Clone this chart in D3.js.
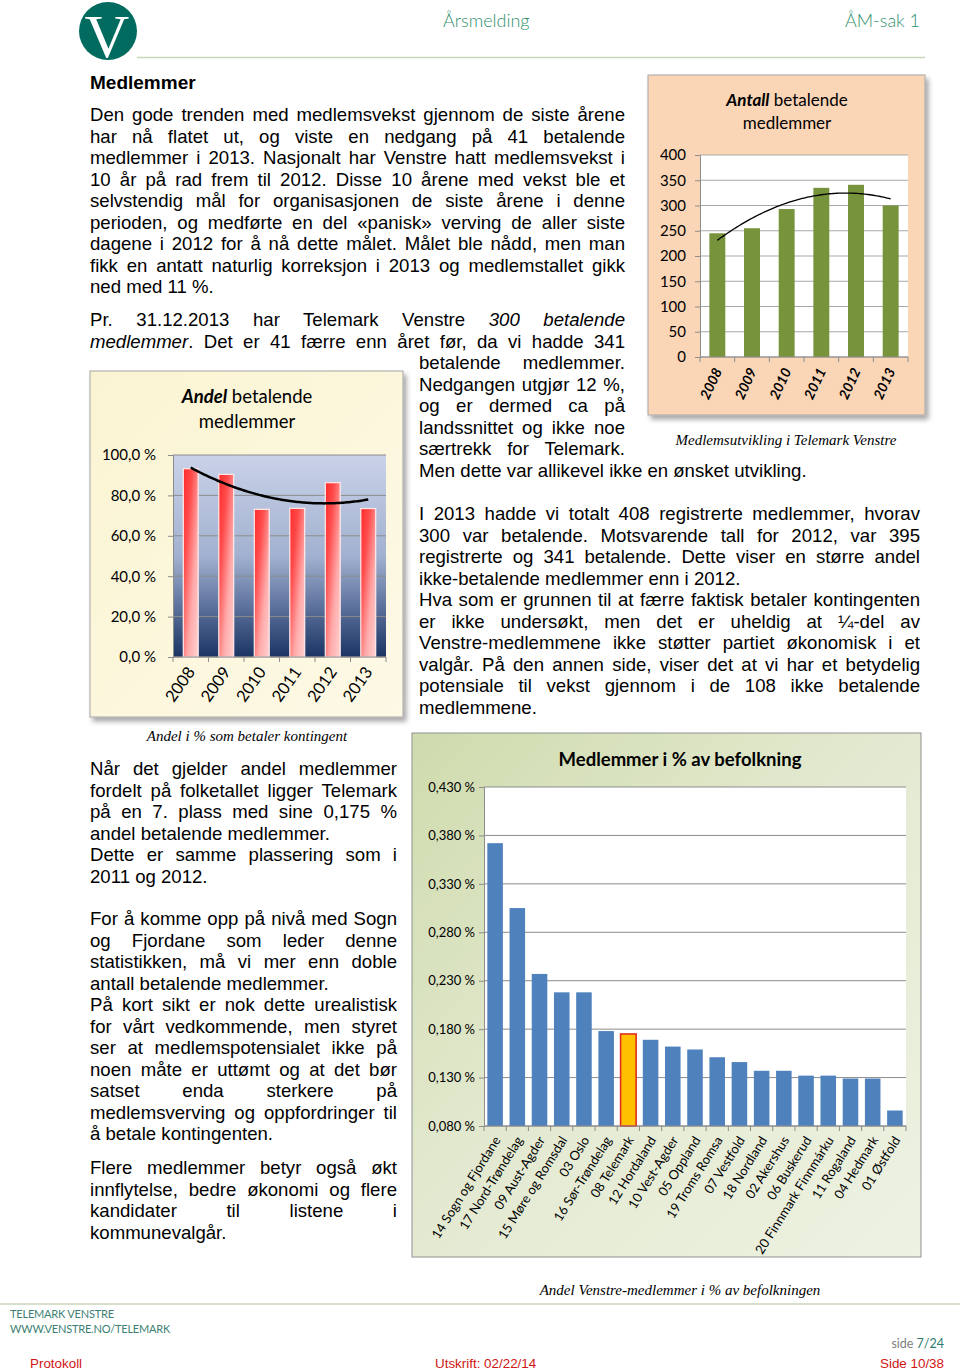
<!DOCTYPE html>
<html><head><meta charset="utf-8">
<script src="https://cdn.jsdelivr.net/npm/d3@7"></script>
<style>
body{margin:0;width:960px;height:1371px;position:relative;background:#fff;overflow:hidden;font-family:"Liberation Sans",Arial,sans-serif;}
#page{position:absolute;left:0;top:0;}
.ln{position:absolute;font-size:18.6px;line-height:22px;white-space:nowrap;color:#000;}
</style></head><body>
<svg id="page" width="960" height="1371"></svg>
<script>
// ---------- DATA ----------
const years = ["2008","2009","2010","2011","2012","2013"];
const antall = [245, 255, 293, 335, 341, 300];
const antallTicks = [0, 50, 100, 150, 200, 250, 300, 350, 400];
const andel = [93.2, 90.4, 73.1, 73.6, 86.3, 73.5];
const andelTicks = [0, 20, 40, 60, 80, 100];
const fylker = ["14 Sogn og Fjordane","17 Nord-Trøndelag","09 Aust-Agder","15 Møre og Romsdal","03 Oslo","16 Sør-Trøndelag","08 Telemark","12 Hordaland","10 Vest-Agder","05 Oppland","19 Troms Romsa","07 Vestfold","18 Nordland","02 Akershus","06 Buskerud","20 Finnmark Finnmárku","11 Rogaland","04 Hedmark","01 Østfold"];
const befolkning = [0.372, 0.305, 0.237, 0.218, 0.218, 0.178, 0.175, 0.169, 0.162, 0.159, 0.151, 0.146, 0.137, 0.137, 0.132, 0.132, 0.129, 0.129, 0.096];
const befolkningTicks = [0.080, 0.130, 0.180, 0.230, 0.280, 0.330, 0.380, 0.430];
const highlight = "08 Telemark";

// body text lines: [html, x, yCenter, width, justify]
const bodyLines = [
 ["Den gode trenden med medlemsvekst gjennom de siste årene",90,115,535,1],
 ["har nå flatet ut, og viste en nedgang på 41 betalende",90,136.5,535,1],
 ["medlemmer i 2013. Nasjonalt har Venstre hatt medlemsvekst i",90,158,535,1],
 ["10 år på rad frem til 2012. Disse 10 årene med vekst ble et",90,179.5,535,1],
 ["selvstendig mål for organisasjonen de siste årene i denne",90,201,535,1],
 ["perioden, og medførte en del «panisk» verving de aller siste",90,222.5,535,1],
 ["dagene i 2012 for å nå dette målet. Målet ble nådd, men man",90,244,535,1],
 ["fikk en antatt naturlig korreksjon i 2013 og medlemstallet gikk",90,265.5,535,1],
 ["ned med 11 %.",90,287,535,0],
 ["Pr. 31.12.2013 har Telemark Venstre <i>300 betalende</i>",90,320,535,1],
 ["<i>medlemmer</i>. Det er 41 færre enn året før, da vi hadde 341",90,341.5,535,1],
 ["betalende medlemmer.",419,363,206,1],
 ["Nedgangen utgjør 12 %,",419,384.5,206,1],
 ["og er dermed ca på",419,406,206,1],
 ["landssnittet og ikke noe",419,427.5,206,1],
 ["særtrekk for Telemark.",419,449,206,1],
 ["Men dette var allikevel ikke en ønsket utvikling.",419,470.5,400,0],
 ["I 2013 hadde vi totalt 408 registrerte medlemmer, hvorav",419,514,501,1],
 ["300 var betalende. Motsvarende tall for 2012, var 395",419,535.5,501,1],
 ["registrerte og 341 betalende. Dette viser en større andel",419,557,501,1],
 ["ikke-betalende medlemmer enn i 2012.",419,578.5,501,0],
 ["Hva som er grunnen til at færre faktisk betaler kontingenten",419,600,501,1],
 ["er ikke undersøkt, men det er uheldig at ¼-del av",419,621.5,501,1],
 ["Venstre-medlemmene ikke støtter partiet økonomisk i et",419,643,501,1],
 ["valgår. På den annen side, viser det at vi har et betydelig",419,664.5,501,1],
 ["potensiale til vekst gjennom i de 108 ikke betalende",419,686,501,1],
 ["medlemmene.",419,707.5,501,0],
 ["Når det gjelder andel medlemmer",90,769,307,1],
 ["fordelt på folketallet ligger Telemark",90,790.5,307,1],
 ["på en 7. plass med sine 0,175 %",90,812,307,1],
 ["andel betalende medlemmer.",90,833.5,307,0],
 ["Dette er samme plassering som i",90,855,307,1],
 ["2011 og 2012.",90,876.5,307,0],
 ["For å komme opp på nivå med Sogn",90,919,307,1],
 ["og Fjordane som leder denne",90,940.5,307,1],
 ["statistikken, må vi mer enn doble",90,962,307,1],
 ["antall betalende medlemmer.",90,983.5,307,0],
 ["På kort sikt er nok dette urealistisk",90,1005,307,1],
 ["for vårt vedkommende, men styret",90,1026.5,307,1],
 ["ser at medlemspotensialet ikke på",90,1048,307,1],
 ["noen måte er uttømt og at det bør",90,1069.5,307,1],
 ["satset enda sterkere på",90,1091,307,1],
 ["medlemsverving og oppfordringer til",90,1112.5,307,1],
 ["å betale kontingenten.",90,1134,307,0],
 ["Flere medlemmer betyr også økt",90,1168,307,1],
 ["innflytelse, bedre økonomi og flere",90,1189.5,307,1],
 ["kandidater til listene i",90,1211,307,1],
 ["kommunevalgår.",90,1232.5,307,0]
];

// ---------- HELPERS ----------
function polyfit2(ys){
  const S=[0,0,0,0,0], T=[0,0,0];
  ys.forEach((y,i)=>{ for(let k=0;k<5;k++) S[k]+=Math.pow(i,k); for(let k=0;k<3;k++) T[k]+=Math.pow(i,k)*y; });
  const M=[[S[0],S[1],S[2]],[S[1],S[2],S[3]],[S[2],S[3],S[4]]];
  const det=m=>m[0][0]*(m[1][1]*m[2][2]-m[1][2]*m[2][1])-m[0][1]*(m[1][0]*m[2][2]-m[1][2]*m[2][0])+m[0][2]*(m[1][0]*m[2][1]-m[1][1]*m[2][0]);
  const D=det(M);
  const r=[0,1,2].map(c=>{const m=M.map((row,i)=>row.map((v,j)=>j===c?T[i]:v));return det(m)/D;});
  return x=>r[0]+r[1]*x+r[2]*x*x;
}
const svg = d3.select('#page');
const defs = svg.append('defs');
const sh = defs.append('filter').attr('id','sh').attr('x','-5%').attr('y','-5%').attr('width','115%').attr('height','115%');
sh.append('feDropShadow').attr('dx',3).attr('dy',4).attr('stdDeviation',2.5).attr('flood-color','#000').attr('flood-opacity',0.35);
function lin(id,x2,y2,stops){
  const g=defs.append('linearGradient').attr('id',id).attr('x1',0).attr('y1',0).attr('x2',x2).attr('y2',y2);
  stops.forEach(s=>g.append('stop').attr('offset',s[0]).attr('stop-color',s[1]));
}
lin('plot2',0,1,[[0,'#c9d2e8'],[0.5,'#a2b1d0'],[0.75,'#5d729c'],[1,'#1b3463']]);
lin('bar2',1,1,[[0,'#ff2a2a'],[0.3,'#ff4c4c'],[0.65,'#ffaaaa'],[1,'#ffd2d2']]);
lin('box3',1,1,[[0,'#cfdbad'],[0.5,'#e4ead2'],[1,'#eef2e2']]);
lin('box2',1,1,[[0,'#fbf4d2'],[1,'#fdf9e6']]);

// ---------- HEADER / FOOTER ----------
svg.append('circle').attr('cx',108).attr('cy',31).attr('r',29).attr('fill','#006b5e');
svg.append('text').attr('x',107).attr('y',57).attr('text-anchor','middle').attr('font-family','Liberation Serif').attr('font-size',62).attr('fill','#fff').text('V');
svg.append('line').attr('x1',137).attr('x2',925).attr('y1',57.5).attr('y2',57.5).attr('stroke','#c7d5b8').attr('stroke-width',1.5);
svg.append('line').attr('x1',0).attr('x2',960).attr('y1',1304).attr('y2',1304).attr('stroke','#c7d5b8').attr('stroke-width',1.5);
const hdr=[["Årsmelding",443,27,'start'],["ÅM-sak 1",920,27,'end']];
hdr.forEach(h=>svg.append('text').attr('x',h[1]).attr('y',h[2]).attr('text-anchor',h[3]).attr('font-family','Lato').attr('font-weight',300).attr('font-size',18).attr('fill','#2f8f6e').text(h[0]));
svg.append('text').attr('x',90).attr('y',89).attr('font-family','Liberation Sans').attr('font-weight','bold').attr('font-size',19).text('Medlemmer');
[["TELEMARK VENSTRE",1318],["WWW.VENSTRE.NO/TELEMARK",1333]].forEach(f=>svg.append('text').attr('x',10).attr('y',f[1]).attr('font-family','Lato').attr('font-size',11).attr('letter-spacing',-0.2).attr('fill','#3d7f74').text(f[0]));
const sd=svg.append('text').attr('x',944).attr('y',1348).attr('text-anchor','end').attr('font-family','Lato').attr('font-size',12.5);
sd.append('tspan').attr('fill','#7f7f7f').text('side ');
sd.append('tspan').attr('fill','#2d7c6f').text('7/24');
[["Protokoll",30,'start'],["Utskrift: 02/22/14",435,'start'],["Side 10/38",944,'end']].forEach(f=>svg.append('text').attr('x',f[1]).attr('y',1368).attr('text-anchor',f[2]).attr('font-family','Liberation Sans').attr('font-size',13.4).attr('fill','#d01515').text(f[0]));

// ---------- CHART 1: Antall ----------
(function(){
  const g=svg.append('g');
  g.append('rect').attr('x',648).attr('y',75).attr('width',277).attr('height',340).attr('fill','#fad5b6').attr('stroke','#a6a6a6').attr('filter','url(#sh)');
  const x=d3.scaleBand().domain(years).range([700,908]).paddingInner(0.54).paddingOuter(0.27);
  const y=d3.scaleLinear().domain([0,400]).range([357,155]);
  g.append('rect').attr('x',700).attr('y',155).attr('width',208).attr('height',202).attr('fill','#fff');
  g.append('g').selectAll('line').data(antallTicks).join('line').attr('x1',700).attr('x2',908).attr('y1',d=>y(d)).attr('y2',d=>y(d)).attr('stroke','#a8a8a8');
  g.append('g').selectAll('rect').data(antall).join('rect').attr('x',(d,i)=>x(years[i])).attr('width',x.bandwidth()).attr('y',d=>y(d)).attr('height',d=>y(0)-y(d)).attr('fill','#77933c');
  const ax=g.append('g').attr('transform','translate(700,0)').call(d3.axisLeft(y).tickValues(antallTicks).tickSize(5).tickPadding(9).tickFormat(d3.format('d')));
  ax.select('.domain').attr('stroke','#8c8c8c'); ax.selectAll('.tick line').attr('stroke','#8c8c8c');
  ax.selectAll('text').attr('font-family','Lato').attr('font-size',15).attr('fill','#000');
  g.append('line').attr('x1',700).attr('x2',908).attr('y1',357).attr('y2',357).attr('stroke','#8c8c8c');
  g.append('g').selectAll('line').data(d3.range(years.length+1)).join('line').attr('x1',i=>700+i*x.step()).attr('x2',i=>700+i*x.step()).attr('y1',357).attr('y2',362).attr('stroke','#8c8c8c');
  g.append('g').selectAll('text').data(years).join('text').attr('transform',d=>`translate(${x(d)+x.bandwidth()/2+5},${371}) rotate(-65)`).attr('text-anchor','end').attr('font-family','Lato').attr('font-weight','bold').attr('font-style','italic').attr('font-size',14).text(d=>d);
  const f=polyfit2(antall);
  const pts=d3.range(0,years.length-1+0.001,0.05);
  g.append('path').attr('d',d3.line().x(t=>x(years[0])+x.bandwidth()/2+t*x.step()).y(t=>y(f(t)))(pts)).attr('fill','none').attr('stroke','#000').attr('stroke-width',1.3);
  const t1=g.append('text').attr('x',787).attr('y',106).attr('text-anchor','middle').attr('font-family','Lato').attr('font-size',17);
  t1.append('tspan').attr('font-weight','bold').attr('font-style','italic').text('Antall');
  t1.append('tspan').text(' betalende');
  g.append('text').attr('x',787).attr('y',129).attr('text-anchor','middle').attr('font-family','Lato').attr('font-size',17).text('medlemmer');
  svg.append('text').attr('x',786).attr('y',445).attr('text-anchor','middle').attr('font-family','Liberation Serif').attr('font-style','italic').attr('font-size',15).text('Medlemsutvikling i Telemark Venstre');
})();

// ---------- CHART 2: Andel ----------
(function(){
  const g=svg.append('g');
  g.append('rect').attr('x',90).attr('y',371).attr('width',313).attr('height',346).attr('fill','url(#box2)').attr('stroke','#a6a6a6').attr('filter','url(#sh)');
  const x=d3.scaleBand().domain(years).range([173,386]).paddingInner(0.58).paddingOuter(0.29);
  const y=d3.scaleLinear().domain([0,100]).range([657,455]);
  g.append('rect').attr('x',173).attr('y',455).attr('width',213).attr('height',202).attr('fill','url(#plot2)');
  g.append('g').selectAll('line').data(andelTicks).join('line').attr('x1',173).attr('x2',386).attr('y1',d=>y(d)).attr('y2',d=>y(d)).attr('stroke','#8c8c8c');
  g.append('g').selectAll('rect').data(andel).join('rect').attr('x',(d,i)=>x(years[i])).attr('width',x.bandwidth()).attr('y',d=>y(d)).attr('height',d=>y(0)-y(d)).attr('fill','url(#bar2)').attr('stroke','#ffeaea').attr('stroke-width',1.2);
  const ax=g.append('g').attr('transform','translate(173,0)').call(d3.axisLeft(y).tickValues(andelTicks).tickSize(5).tickPadding(12).tickFormat(v=>d3.format('.1f')(v).replace('.',',')+' %'));
  ax.select('.domain').attr('stroke','#8c8c8c'); ax.selectAll('.tick line').attr('stroke','#8c8c8c');
  ax.selectAll('text').attr('font-family','Lato').attr('font-size',15).attr('fill','#000');
  g.append('line').attr('x1',173).attr('x2',386).attr('y1',657).attr('y2',657).attr('stroke','#8c8c8c');
  g.append('g').selectAll('line').data(d3.range(years.length+1)).join('line').attr('x1',i=>173+i*x.step()).attr('x2',i=>173+i*x.step()).attr('y1',657).attr('y2',662).attr('stroke','#8c8c8c');
  g.append('g').selectAll('text').data(years).join('text').attr('transform',d=>`translate(${x(d)+x.bandwidth()/2+5},${672}) rotate(-55)`).attr('text-anchor','end').attr('font-family','Lato').attr('font-size',16.5).text(d=>d);
  const f=polyfit2(andel);
  const pts=d3.range(0,years.length-1+0.001,0.05);
  g.append('path').attr('d',d3.line().x(t=>x(years[0])+x.bandwidth()/2+t*x.step()).y(t=>y(f(t)))(pts)).attr('fill','none').attr('stroke','#000').attr('stroke-width',2.5);
  const t1=g.append('text').attr('x',247).attr('y',403).attr('text-anchor','middle').attr('font-family','Lato').attr('font-size',18.5);
  t1.append('tspan').attr('font-weight','bold').attr('font-style','italic').text('Andel');
  t1.append('tspan').text(' betalende');
  g.append('text').attr('x',247).attr('y',428).attr('text-anchor','middle').attr('font-family','Lato').attr('font-size',18.5).text('medlemmer');
  svg.append('text').attr('x',247).attr('y',741).attr('text-anchor','middle').attr('font-family','Liberation Serif').attr('font-style','italic').attr('font-size',15).text('Andel i % som betaler kontingent');
})();

// ---------- CHART 3: Befolkning ----------
(function(){
  const g=svg.append('g');
  g.append('rect').attr('x',412).attr('y',733).attr('width',509).attr('height',524).attr('fill','url(#box3)').attr('stroke','#909090');
  const x=d3.scaleBand().domain(fylker).range([484,906]).paddingInner(0.3).paddingOuter(0.15);
  const y=d3.scaleLinear().domain([0.08,0.43]).range([1126,787]);
  g.append('rect').attr('x',484).attr('y',787).attr('width',422).attr('height',339).attr('fill','#fff');
  g.append('g').selectAll('line').data(befolkningTicks).join('line').attr('x1',484).attr('x2',906).attr('y1',d=>y(d)).attr('y2',d=>y(d)).attr('stroke','#8c8c8c');
  g.append('g').selectAll('rect').data(befolkning).join('rect').attr('x',(d,i)=>x(fylker[i])).attr('width',x.bandwidth()).attr('y',d=>y(d)).attr('height',d=>y(0.08)-y(d))
    .attr('fill',(d,i)=>fylker[i]===highlight?'#ffc000':'#4f81bd').attr('stroke',(d,i)=>fylker[i]===highlight?'#e0301e':'none').attr('stroke-width',1.6);
  const ax=g.append('g').attr('transform','translate(484,0)').call(d3.axisLeft(y).tickValues(befolkningTicks).tickSize(5).tickPadding(4).tickFormat(v=>d3.format('.3f')(v).replace('.',',')+' %'));
  ax.select('.domain').attr('stroke','#8c8c8c'); ax.selectAll('.tick line').attr('stroke','#8c8c8c');
  ax.selectAll('text').attr('font-family','Lato').attr('font-size',13).attr('fill','#000');
  g.append('line').attr('x1',484).attr('x2',906).attr('y1',1126).attr('y2',1126).attr('stroke','#8c8c8c');
  g.append('g').selectAll('line').data(d3.range(fylker.length+1)).join('line').attr('x1',i=>484+i*x.step()).attr('x2',i=>484+i*x.step()).attr('y1',1126).attr('y2',1131).attr('stroke','#8c8c8c');
  g.append('g').selectAll('text').data(fylker).join('text').attr('transform',d=>`translate(${x(d)+x.bandwidth()/2+6},${1140}) rotate(-58)`).attr('text-anchor','end').attr('font-family','Lato').attr('font-size',13).text(d=>d);
  g.append('text').attr('x',680).attr('y',766).attr('text-anchor','middle').attr('font-family','Lato').attr('font-weight','bold').attr('font-size',18.5).text('Medlemmer i % av befolkning');
  svg.append('text').attr('x',680).attr('y',1295).attr('text-anchor','middle').attr('font-family','Liberation Serif').attr('font-style','italic').attr('font-size',15).text('Andel Venstre-medlemmer i % av befolkningen');
})();

// ---------- BODY TEXT ----------
bodyLines.forEach(l=>{
  const d=d3.select('body').append('div').attr('class','ln').style('left',l[1]+'px').style('top',(l[2]-11)+'px').html(l[0]);
  if(l[4]){
    const el=d.node();
    const w=el.getBoundingClientRect().width;
    const n=(el.textContent.match(/ /g)||[]).length;
    if(n>0) d.style('word-spacing',((l[3]-w)/n)+'px');
  }
});
</script>
</body></html>
